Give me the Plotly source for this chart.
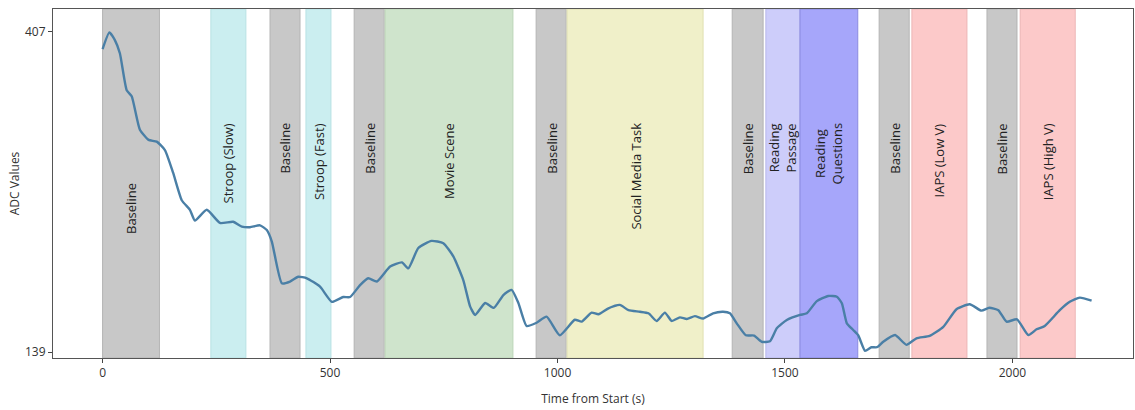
import plotly.graph_objects as go

# ADC trace over the session (time in seconds, smoothed ADC reading)
time_s = [0, 15, 27, 38, 53, 64, 82, 101, 119, 137, 155, 174, 192, 203, 229, 258, 287,
          306, 324, 346, 361, 372, 394, 412, 430, 449, 478, 504, 529, 544, 566, 584, 603,
          632, 658, 672, 694, 723, 749, 771, 793, 808, 819, 841, 860, 881, 899, 914, 932,
          954, 976, 1005, 1038, 1053, 1075, 1090, 1112, 1137, 1156, 1181, 1200, 1218, 1236,
          1251, 1269, 1284, 1302, 1320, 1342, 1364, 1379, 1394, 1414, 1432, 1449, 1467,
          1482, 1504, 1533, 1548, 1570, 1595, 1614, 1625, 1636, 1650, 1661, 1676, 1690,
          1702, 1716, 1742, 1767, 1789, 1818, 1848, 1877, 1906, 1932, 1949, 1969, 1987,
          2010, 2035, 2053, 2071, 2104, 2126, 2148, 2174]
adc = [392.5, 406.4, 400, 389, 358, 353, 325, 316.5, 315, 308, 289, 266, 258, 249, 258,
       247, 248, 244, 243.4, 245, 241, 231.4, 196.5, 198, 202, 200.7, 193.7, 181, 185,
       185, 195, 200.7, 198, 210.5, 214, 209, 226, 232, 230, 219, 199, 177, 170, 180,
       176, 186.7, 191, 180, 160.8, 163.5, 168.6, 153, 166, 164.4, 172, 170.6, 175.6,
       178.4, 174, 172.7, 171.4, 165, 172, 165, 168, 166.6, 169, 167, 171.4, 172.7,
       171.4, 163, 153, 152.8, 147.6, 148, 158.8, 165.8, 170, 171.4, 181.6, 185.9, 185.3,
       179.8, 163, 157.4, 153, 140, 143, 143, 147.6, 153.2, 145, 150.5, 152.5, 160,
       174.8, 179, 173.6, 176, 174, 164.4, 166.4, 153.2, 158, 160.8, 174, 181, 184.5, 182]

# Task segments: label, start, end (s), fill colour
segment_labels = ["Baseline", "Stroop (Slow)", "Baseline", "Stroop (Fast)", "Baseline",
                  "Movie Scene", "Baseline", "Social Media Task", "Baseline",
                  "Reading<br>Passage", "Reading<br>Questions", "Baseline", "IAPS (Low V)",
                  "Baseline", "IAPS (High V)"]
segment_start = [0, 238, 368, 447, 553, 621, 953, 1021, 1384, 1458, 1533, 1707, 1779, 1944, 2017]
segment_end = [125, 315, 434, 502, 619, 902, 1019, 1320, 1452, 1533, 1660, 1773, 1900, 2010, 2138]
segment_fill = ["#c8c8c8", "#cbeef0", "#c8c8c8", "#cbeef0", "#c8c8c8", "#cfe4cc", "#c8c8c8",
                "#f0f0c9", "#c8c8c8", "#cdcdfa", "#a6a6fa", "#c8c8c8", "#fcc9c9", "#c8c8c8",
                "#fcc9c9"]
segment_edge = ["#b4b4b4", "#b8e2e4", "#b4b4b4", "#b8e2e4", "#b4b4b4", "#bcd6b8", "#b4b4b4",
                "#e0e0b4", "#b4b4b4", "#b6b6ea", "#8a8ae0", "#b4b4b4", "#ecb6b6", "#b4b4b4",
                "#ecb6b6"]

x_ticks = [0, 500, 1000, 1500, 2000]
y_ticks = [139, 407]

fig = go.Figure()

for i, lab in enumerate(segment_labels):
    fig.add_shape(type="rect", xref="x", yref="paper",
                  x0=segment_start[i], x1=segment_end[i], y0=0, y1=1,
                  fillcolor=segment_fill[i], line=dict(color=segment_edge[i], width=1),
                  layer="below")
    label_y = 0.427 if i == 0 else 0.679
    fig.add_annotation(x=(segment_start[i] + segment_end[i]) / 2, y=label_y,
                       xref="x", yref="paper", text=lab, textangle=-90,
                       showarrow=False, align="center",
                       font=dict(family="Open Sans", size=13, color="#222222"))

fig.add_trace(go.Scatter(x=time_s, y=adc, mode="lines",
                         line=dict(color="#4a7fa6", width=2.4, shape="spline", smoothing=0.5),
                         hoverinfo="skip", showlegend=False))

fig.update_layout(
    width=1135, height=410,
    margin=dict(l=53, r=2, t=9, b=52),
    plot_bgcolor="white", paper_bgcolor="white",
    font=dict(family="Open Sans", size=12, color="#333333"),
    showlegend=False,
)
fig.update_xaxes(range=[-109, 2265], tickvals=x_ticks, ticks="outside", ticklen=4,
                 tickcolor="#444444", showgrid=False, zeroline=False,
                 showline=True, linecolor="#555555", linewidth=1, mirror=True,
                 title=dict(text="Time from Start (s)", standoff=14,
                            font=dict(family="Open Sans", size=12, color="#333333")),
                 tickfont=dict(family="Open Sans", size=12, color="#333333"))
fig.update_yaxes(range=[134, 426], tickvals=y_ticks, ticks="outside", ticklen=4,
                 tickcolor="#444444", showgrid=False, zeroline=False,
                 showline=True, linecolor="#555555", linewidth=1, mirror=True,
                 title=dict(text="ADC Values", standoff=2,
                            font=dict(family="Open Sans", size=12, color="#333333")),
                 tickfont=dict(family="Open Sans", size=12, color="#333333"))

fig.write_html("out.html")
